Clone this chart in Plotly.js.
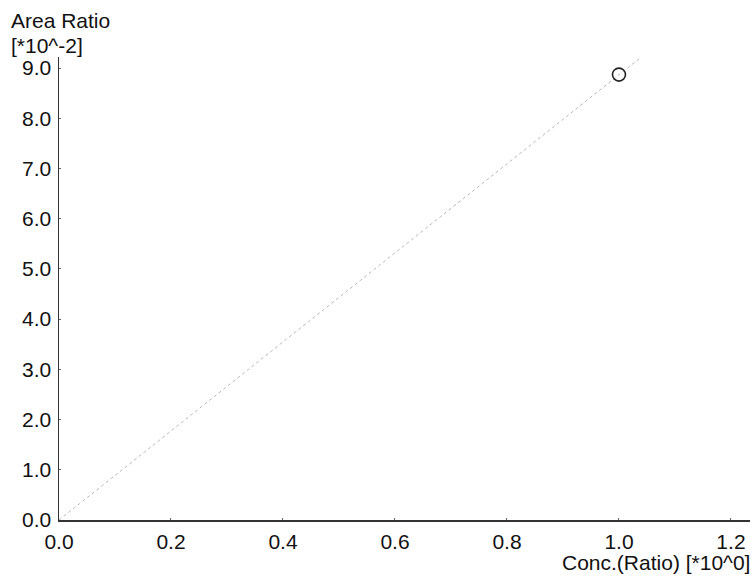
<!DOCTYPE html>
<html>
<head>
<meta charset="utf-8">
<script src="https://cdn.plot.ly/plotly-3.0.1.min.js"></script>
<style>
  html, body { margin: 0; padding: 0; background: #fff; }
  #chart { width: 754px; height: 576px; }
</style>
</head>
<body>
<div id="chart"></div>
<script>
// Calibration standard (concentration ratio vs. area ratio, area in units of 1e-2)
const concRatio = [1.0];
const areaRatio = [8.87];

// Calibration line endpoints (through the origin)
const fitConc = [0.0, 1.04];
const fitArea = [0.0, 9.22];

const xTickVals = [0.0, 0.2, 0.4, 0.6, 0.8, 1.0, 1.2];
const xTickText = ['0.0', '0.2', '0.4', '0.6', '0.8', '1.0', '1.2'];
const yTickVals = [0, 1, 2, 3, 4, 5, 6, 7, 8, 9];
const yTickText = ['0.0', '1.0', '2.0', '3.0', '4.0', '5.0', '6.0', '7.0', '8.0', '9.0'];

const font = { family: 'Liberation Sans, Arial, sans-serif', size: 21, color: '#111' };

const traces = [
  {
    x: fitConc, y: fitArea,
    type: 'scatter', mode: 'lines',
    line: { color: '#b8b8b8', width: 1, dash: 'dot' },
    hoverinfo: 'skip',
    cliponaxis: false
  },
  {
    x: concRatio, y: areaRatio,
    type: 'scatter', mode: 'markers',
    marker: { symbol: 'circle-open', size: 13, color: '#222', line: { width: 1.6, color: '#222' } },
    cliponaxis: false
  }
];

const layout = {
  width: 754, height: 576,
  margin: { l: 59, r: 4, t: 57, b: 56 },
  paper_bgcolor: '#fff', plot_bgcolor: '#fff',
  showlegend: false,
  font: font,
  xaxis: {
    range: [0, 1.234],
    tickvals: xTickVals, ticktext: xTickText,
    showgrid: false, zeroline: false,
    showline: true, linecolor: '#333', linewidth: 1.5,
    ticks: 'inside', ticklen: 2, tickcolor: '#666',
    ticklabelstandoff: 2,
    tickfont: font
  },
  yaxis: {
    range: [0, 9.22],
    tickvals: yTickVals, ticktext: yTickText,
    showgrid: false, zeroline: false,
    showline: true, linecolor: '#333', linewidth: 1.5,
    ticks: 'inside', ticklen: 2, tickcolor: '#666',
    ticklabelstandoff: 2,
    tickfont: font
  },
  annotations: [
    { text: 'Area Ratio', xref: 'paper', yref: 'paper', x: 0, y: 1, xshift: -50, yshift: 37,
      xanchor: 'left', yanchor: 'middle', showarrow: false, font: font },
    { text: '[*10^-2]', xref: 'paper', yref: 'paper', x: 0, y: 1, xshift: -50, yshift: 12,
      xanchor: 'left', yanchor: 'middle', showarrow: false, font: font },
    { text: 'Conc.(Ratio) [*10^0]', xref: 'paper', yref: 'paper', x: 1, y: 0, xshift: 2, yshift: -42,
      xanchor: 'right', yanchor: 'middle', showarrow: false, font: font }
  ]
};

Plotly.newPlot('chart', traces, layout, { staticPlot: true, displayModeBar: false });
</script>
</body>
</html>
